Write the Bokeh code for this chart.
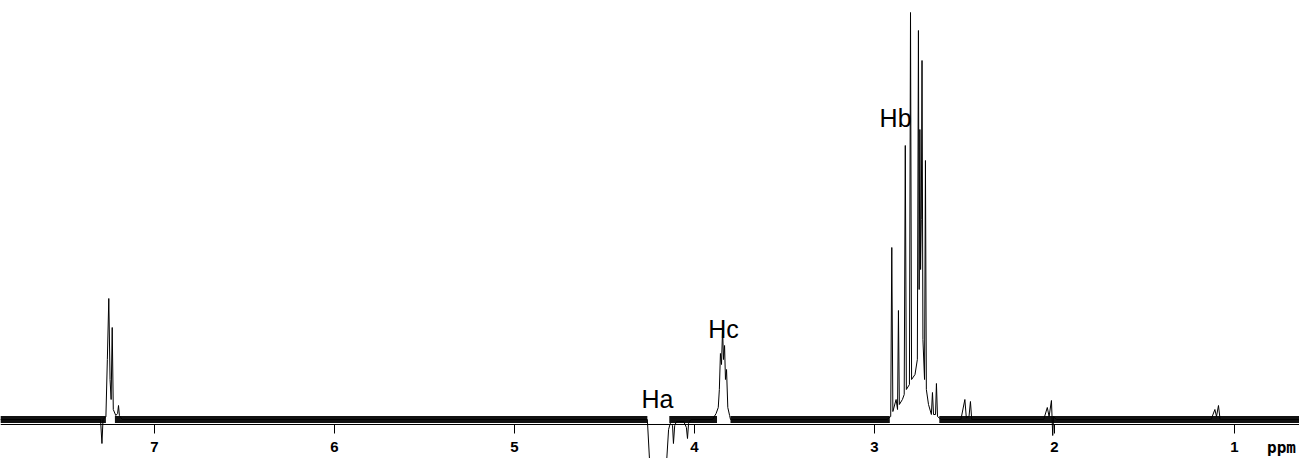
from bokeh.plotting import figure
from bokeh.models import Range1d, Span
from bokeh.core.properties import value
from bokeh.embed import file_html
from bokeh.resources import INLINE

# Spectrum trace (ppm, intensity in arbitrary units)
spec_ppm = [7.856, 7.30, 7.292, 7.286, 7.27, 7.262, 7.254, 7.247, 7.241, 7.235, 7.229, 7.215, 7.205, 7.200, 7.195, 7.18,
            4.27, 4.262, 4.244, 4.20, 4.161, 4.144, 4.135, 4.122, 4.117, 4.11, 4.10, 4.06, 4.045, 4.039, 4.033, 4.02,
            3.90, 3.880, 3.868, 3.862, 3.856, 3.850, 3.844, 3.839, 3.833, 3.828, 3.822, 3.815, 3.805, 3.80,
            2.93, 2.91, 2.904, 2.898, 2.88, 2.872, 2.867, 2.862, 2.845, 2.835, 2.829, 2.823, 2.806, 2.800, 2.794,
            2.775, 2.762, 2.756, 2.752, 2.748, 2.744, 2.740, 2.736, 2.731, 2.722, 2.717, 2.712, 2.70, 2.684, 2.678,
            2.672, 2.661, 2.656, 2.650, 2.63,
            2.52, 2.498, 2.49, 2.475, 2.467, 2.46, 2.06, 2.04, 2.03, 2.017, 2.010, 2.005, 1.99,
            1.13, 1.109, 1.10, 1.089, 1.08, 0.639]
spec_int = [0, 0, -24, 0, 3, 60, 121, 40, 20, 92, 10, 4, 6, 14, 4, 0,
            0, 0, -60, -80, -60, -10, -4, -6, -24, -6, -2, -2, -8, -19, -4, 0,
            0, 6, 12, 30, 66, 55, 91, 60, 74, 40, 50, 12, 4, 0,
            0, 3, 172, 8, 20, 10, 109, 15, 20, 25, 274, 30, 35, 407, 40,
            45, 60, 389, 130, 290, 150, 200, 359, 80, 40, 259, 30, 15, 5, 27,
            5, 5, 36, 3, 0,
            0, 20, 2, 3, 18, 0, 0, 12, 3, 19, -16, 3, 0,
            0, 10, 3, 14, 0, 0]

# Noise-band segments of the baseline (ppm start/end)
band_start = [7.856, 7.22, 4.14, 3.80, 2.64]
band_end = [7.27, 4.262, 3.875, 2.915, 0.639]

# Axis ticks
tick_ppm = [7, 6, 5, 4, 3, 2, 1]
tick_labels = ["7", "6", "5", "4", "3", "2", "1"]

# Peak labels
lab_text = ["Ha", "Hc", "Hb"]
lab_ppm = [4.206, 3.839, 2.883]
lab_int = [21, 91, 302]

p = figure(width=1299, height=458, output_backend="svg", toolbar_location=None,
           x_range=Range1d(7.8556, 0.6389), y_range=Range1d(-39, 419),
           min_border=0, min_border_left=0, min_border_right=0,
           min_border_top=0, min_border_bottom=0)
p.xaxis.visible = False
p.yaxis.visible = False
p.xgrid.visible = False
p.ygrid.visible = False
p.outline_line_color = None
p.background_fill_color = "white"

# baseline noise band
p.segment(x0=band_start, y0=[0] * len(band_start), x1=band_end, y1=[0] * len(band_end),
          line_color="#111111", line_width=7)
# spectrum trace
p.line(spec_ppm, spec_int, line_color="black", line_width=1)

# axis line, ticks, tick labels
p.add_layout(Span(location=-5, dimension="width", line_color="black", line_width=1))
p.segment(x0=tick_ppm, y0=[-5] * len(tick_ppm), x1=tick_ppm, y1=[-14] * len(tick_ppm),
          line_color="black", line_width=1)
p.text(x=tick_ppm, y=[-27] * len(tick_ppm), text=tick_labels, text_align="center",
       text_baseline="middle", text_font=value("Liberation Sans"), text_font_size="15px",
       text_font_style="bold", text_color="black")
p.text(x=[0.739], y=[-28], text=["ppm"], text_align="center", text_baseline="middle",
       text_font=value("DejaVu Sans Mono"), text_font_size="16px", text_font_style="bold",
       text_color="black")

# peak labels
p.text(x=lab_ppm, y=lab_int, text=lab_text, text_align="center", text_baseline="middle",
       text_font=value("Liberation Sans"), text_font_size="25px", text_color="black")

open("out.html", "w").write(file_html(p, INLINE))
